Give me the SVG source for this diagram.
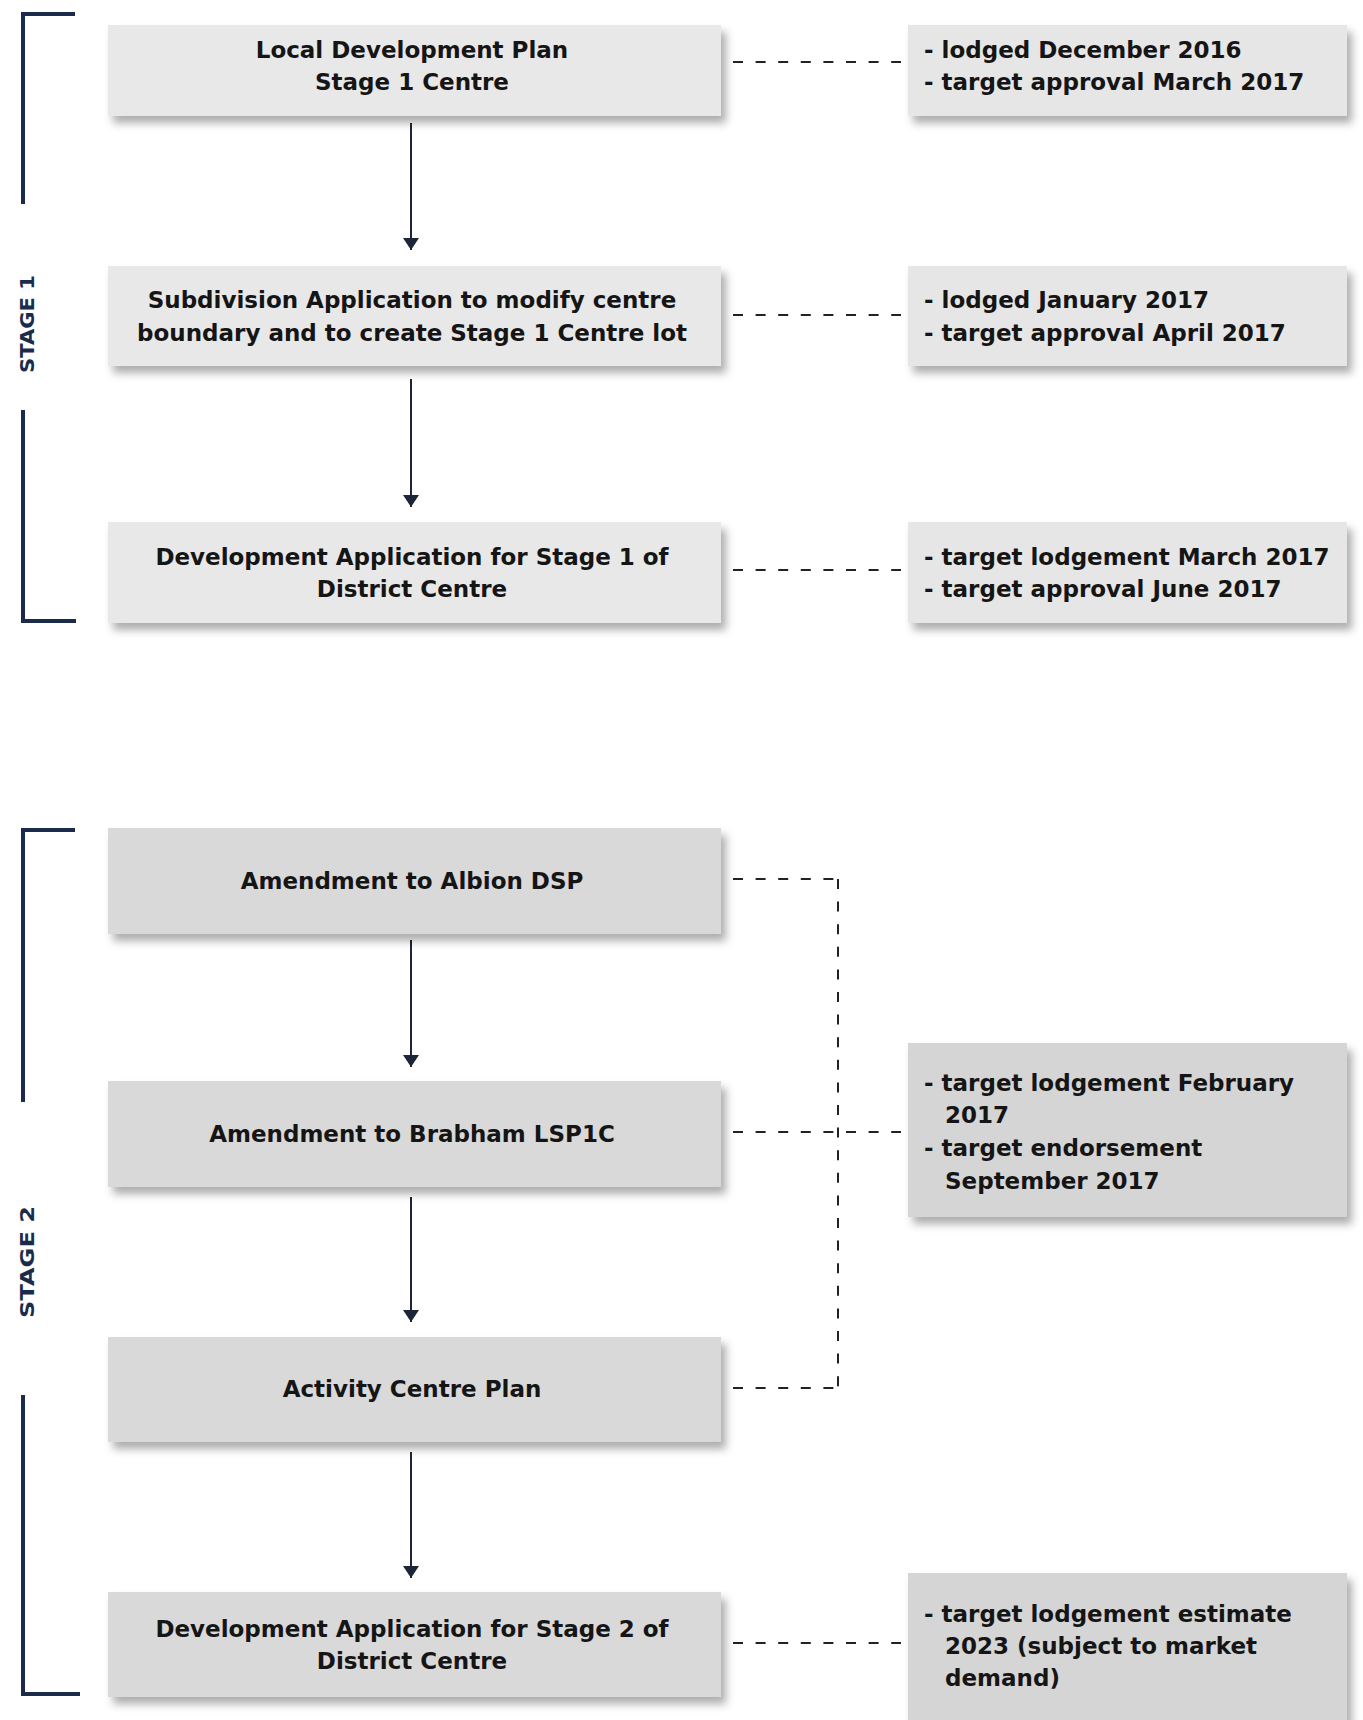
<svg xmlns="http://www.w3.org/2000/svg" width="1363" height="1720" viewBox="0 0 1363 1720">
  <style>
    .t { font-family: "DejaVu Sans", "Liberation Sans", sans-serif; font-weight: bold; font-size: 23px; fill: #151515; }
    .c { text-anchor: middle; }
    .stage { font-family: "DejaVu Sans", "Liberation Sans", sans-serif; font-weight: bold; font-size: 20px; fill: #1b2b4b; text-anchor: middle; }
    .b1 { fill: #e8e8e8; filter: url(#sh); }
    .b2 { fill: #d9d9d9; filter: url(#sh); }
    .r1 { fill: #e6e6e6; filter: url(#sh); }
    .r2 { fill: #d5d5d5; filter: url(#sh); }
    .arrow { stroke: #1c2638; stroke-width: 2; fill: none; marker-end: url(#ah); }
    .dash { stroke: #222; stroke-width: 2; fill: none; stroke-dasharray: 10 12.6; }
    .brk { stroke: #1b2b4b; stroke-width: 4; fill: none; }
  </style>
  <defs>
    <filter id="sh" x="-5%" y="-10%" width="115%" height="135%">
      <feDropShadow dx="5" dy="7" stdDeviation="4" flood-color="#000" flood-opacity="0.32"/>
    </filter>
    <marker id="ah" viewBox="0 0 12 16" refX="12" refY="8" markerWidth="12" markerHeight="16" markerUnits="userSpaceOnUse" orient="auto">
      <path d="M0,0 L12,8 L0,16 z" fill="#1c2638"/>
    </marker>
  </defs>
  <rect width="1363" height="1720" fill="#ffffff"/>

  <g id="brackets">
    <path class="brk" d="M75,14 H23 V204"/>
    <path class="brk" d="M23,410 V621 H76"/>
    <text class="stage" transform="translate(34,324) rotate(-90)" textLength="98" lengthAdjust="spacingAndGlyphs">STAGE 1</text>
    <path class="brk" d="M75,830 H23 V1102"/>
    <path class="brk" d="M23,1395 V1694 H80"/>
    <text class="stage" transform="translate(34,1262) rotate(-90)" textLength="112" lengthAdjust="spacingAndGlyphs">STAGE 2</text>
  </g>

  <g id="connectors">
    <line class="arrow" x1="411" y1="123" x2="411" y2="250"/>
    <line class="arrow" x1="411" y1="379" x2="411" y2="507"/>
    <line class="arrow" x1="411" y1="940" x2="411" y2="1067"/>
    <line class="arrow" x1="411" y1="1197" x2="411" y2="1322"/>
    <line class="arrow" x1="411" y1="1452" x2="411" y2="1578"/>
    <path class="dash" d="M733,62 H901"/>
    <path class="dash" d="M733,315 H901"/>
    <path class="dash" d="M733,570 H901"/>
    <path class="dash" d="M733,879 H838"/>
    <path class="dash" d="M838,879 V1388"/>
    <path class="dash" d="M733,1388 H838"/>
    <path class="dash" d="M733,1132 H901"/>
    <path class="dash" d="M733,1643 H901"/>
  </g>

  <g id="n1">
    <rect class="b1" x="108" y="25" width="613" height="91"/>
    <text class="t c" x="412" y="58">Local Development Plan</text>
    <text class="t c" x="412" y="90">Stage 1 Centre</text>
  </g>
  <g id="n2">
    <rect class="b1" x="108" y="266" width="613" height="100"/>
    <text class="t c" x="412" y="308">Subdivision Application to modify centre</text>
    <text class="t c" x="412" y="341">boundary and to create Stage 1 Centre lot</text>
  </g>
  <g id="n3">
    <rect class="b1" x="108" y="522" width="613" height="101"/>
    <text class="t c" x="412" y="565">Development Application for Stage 1 of</text>
    <text class="t c" x="412" y="597">District Centre</text>
  </g>
  <g id="n4">
    <rect class="b2" x="108" y="828" width="613" height="106"/>
    <text class="t c" x="412" y="889">Amendment to Albion DSP</text>
  </g>
  <g id="n5">
    <rect class="b2" x="108" y="1081" width="613" height="106"/>
    <text class="t c" x="412" y="1142">Amendment to Brabham LSP1C</text>
  </g>
  <g id="n6">
    <rect class="b2" x="108" y="1337" width="613" height="105"/>
    <text class="t c" x="412" y="1397">Activity Centre Plan</text>
  </g>
  <g id="n7">
    <rect class="b2" x="108" y="1592" width="613" height="105"/>
    <text class="t c" x="412" y="1637">Development Application for Stage 2 of</text>
    <text class="t c" x="412" y="1669">District Centre</text>
  </g>

  <g id="r1">
    <rect class="r1" x="908" y="25" width="439" height="91"/>
    <text class="t" x="924" y="58">- lodged December 2016</text>
    <text class="t" x="924" y="90">- target approval March 2017</text>
  </g>
  <g id="r2">
    <rect class="r1" x="908" y="266" width="439" height="100"/>
    <text class="t" x="924" y="308">- lodged January 2017</text>
    <text class="t" x="924" y="341">- target approval April 2017</text>
  </g>
  <g id="r3">
    <rect class="r1" x="908" y="522" width="439" height="101"/>
    <text class="t" x="924" y="565">- target lodgement March 2017</text>
    <text class="t" x="924" y="597">- target approval June 2017</text>
  </g>
  <g id="r4">
    <rect class="r2" x="908" y="1043" width="439" height="174"/>
    <text class="t" x="924" y="1091">- target lodgement February</text>
    <text class="t" x="945" y="1123">2017</text>
    <text class="t" x="924" y="1156">- target endorsement</text>
    <text class="t" x="945" y="1189">September 2017</text>
  </g>
  <g id="r5">
    <rect class="r2" x="908" y="1573" width="439" height="170"/>
    <text class="t" x="924" y="1622">- target lodgement estimate</text>
    <text class="t" x="945" y="1654">2023 (subject to market</text>
    <text class="t" x="945" y="1686">demand)</text>
  </g>
</svg>
